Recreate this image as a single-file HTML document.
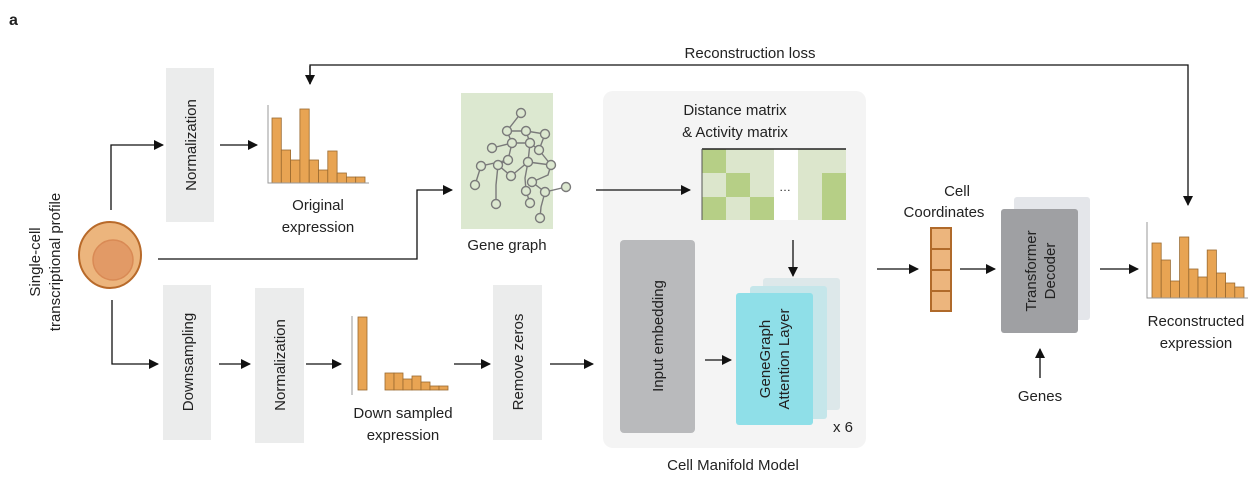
<!DOCTYPE html>
<html><head><meta charset="utf-8"><style>
html,body{margin:0;padding:0;background:#fff;}
svg{display:block;font-family:"Liberation Sans",Arial,sans-serif;}
text{fill:#222;}
</style></head><body>
<svg width="1257" height="485" viewBox="0 0 1257 485" xmlns="http://www.w3.org/2000/svg">
<defs>
<marker id="a" markerWidth="10" markerHeight="10" refX="9" refY="5" orient="auto" markerUnits="userSpaceOnUse">
<path d="M0,0 L10,5 L0,10 z" fill="#111"/></marker>
</defs>
<text x="9" y="25" font-size="16" font-weight="bold">a</text>
<!-- reconstruction loss -->
<text x="750" y="58" font-size="15" text-anchor="middle">Reconstruction loss</text>
<polyline points="310,84 310,65 1188,65 1188,205" fill="none" stroke="#111" stroke-width="1.3" marker-end="url(#a)"/>
<line x1="310" y1="66" x2="310" y2="84" stroke="#111" stroke-width="1.3" marker-end="url(#a)"/>
<!-- left label -->
<text transform="translate(40,262) rotate(-90)" font-size="15" text-anchor="middle"><tspan x="0" y="0">Single-cell</tspan><tspan x="0" y="20">transcriptional profile</tspan></text>
<!-- cell -->
<ellipse cx="110" cy="255" rx="31" ry="33" fill="#ecb57d" stroke="#b86a2a" stroke-width="2"/>
<circle cx="113" cy="260" r="20" fill="#e29a66" stroke="#d98a55" stroke-width="1.5"/>
<!-- branches -->
<polyline points="111,210 111,145 163,145" fill="none" stroke="#111" stroke-width="1.3" marker-end="url(#a)"/>
<polyline points="158,259 417,259 417,190 452,190" fill="none" stroke="#111" stroke-width="1.3" marker-end="url(#a)"/>
<polyline points="112,300 112,364 158,364" fill="none" stroke="#111" stroke-width="1.3" marker-end="url(#a)"/>
<!-- boxes -->
<rect x="166" y="68" width="48" height="154" fill="#ebecec"/>
<text transform="translate(196,145) rotate(-90)" font-size="15" text-anchor="middle">Normalization</text>
<rect x="163" y="285" width="48" height="155" fill="#ebecec"/>
<text transform="translate(193,362) rotate(-90)" font-size="15" text-anchor="middle">Downsampling</text>
<rect x="255" y="288" width="49" height="155" fill="#ebecec"/>
<text transform="translate(285,365) rotate(-90)" font-size="15" text-anchor="middle">Normalization</text>
<rect x="493" y="285" width="49" height="155" fill="#ebecec"/>
<text transform="translate(523,362) rotate(-90)" font-size="15" text-anchor="middle">Remove zeros</text>
<line x1="220" y1="145" x2="257" y2="145" stroke="#111" stroke-width="1.3" marker-end="url(#a)"/>
<line x1="219" y1="364" x2="250" y2="364" stroke="#111" stroke-width="1.3" marker-end="url(#a)"/>
<line x1="306" y1="364" x2="341" y2="364" stroke="#111" stroke-width="1.3" marker-end="url(#a)"/>
<line x1="454" y1="364" x2="490" y2="364" stroke="#111" stroke-width="1.3" marker-end="url(#a)"/>
<line x1="550" y1="364" x2="593" y2="364" stroke="#111" stroke-width="1.3" marker-end="url(#a)"/>
<!-- hist 1 -->
<g fill="#e8a453" stroke="#9a6a30" stroke-width="0.8">
<rect x="272" y="118" width="9.3" height="65"/><rect x="281.3" y="150" width="9.3" height="33"/><rect x="290.6" y="160" width="9.3" height="23"/><rect x="299.9" y="109" width="9.3" height="74"/><rect x="309.2" y="160" width="9.3" height="23"/><rect x="318.5" y="170" width="9.3" height="13"/><rect x="327.8" y="151" width="9.3" height="32"/><rect x="337.1" y="173" width="9.3" height="10"/><rect x="346.4" y="177" width="9.3" height="6"/><rect x="355.7" y="177" width="9.3" height="6"/>
</g>
<polyline points="268,105 268,183 369,183" fill="none" stroke="#999" stroke-width="1"/>
<text x="318" y="210" font-size="15" text-anchor="middle">Original</text>
<text x="318" y="232" font-size="15" text-anchor="middle">expression</text>
<!-- hist 2 -->
<g fill="#e8a453" stroke="#9a6a30" stroke-width="0.8">
<rect x="358" y="317" width="9" height="73"/><rect x="385" y="373" width="9" height="17"/><rect x="394" y="373" width="9" height="17"/><rect x="403" y="379" width="9" height="11"/><rect x="412" y="376" width="9" height="14"/><rect x="421" y="382" width="9" height="8"/><rect x="430" y="386" width="9" height="4"/><rect x="439" y="386" width="9" height="4"/>
</g>
<polyline points="352,316 352,395 M352,390 454,390" fill="none" stroke="#999" stroke-width="1"/>
<text x="403" y="418" font-size="15" text-anchor="middle">Down sampled</text>
<text x="403" y="440" font-size="15" text-anchor="middle">expression</text>
<!-- gene graph -->
<rect x="461" y="93" width="92" height="136" fill="#dce8d0"/>
<g stroke="#7a7a7a" stroke-width="1.4" fill="none">
<path d="M521,113 L507,131 L526,131 L545,134 L539,150 L530,143 L512,143 L507,131 M512,143 L492,148 M512,143 L508,160 L481,166 L475,185 M530,143 L528,162 L511,176 L498,165 M528,162 L525,178 L526,191 L530,203 M508,160 L498,165 L496,185 L496,204 M528,162 L551,165 L548,175 L532,182 L545,192 L566,187 M545,192 L541,207 L540,218 M539,150 L551,165 M526,131 L530,143"/>
</g>
<g fill="#dce8d0" stroke="#7a7a7a" stroke-width="1.4">
<circle cx="521" cy="113" r="4.5"/><circle cx="507" cy="131" r="4.5"/><circle cx="526" cy="131" r="4.5"/><circle cx="545" cy="134" r="4.5"/><circle cx="492" cy="148" r="4.5"/><circle cx="512" cy="143" r="4.5"/><circle cx="530" cy="143" r="4.5"/><circle cx="539" cy="150" r="4.5"/><circle cx="508" cy="160" r="4.5"/><circle cx="528" cy="162" r="4.5"/><circle cx="551" cy="165" r="4.5"/><circle cx="481" cy="166" r="4.5"/><circle cx="498" cy="165" r="4.5"/><circle cx="511" cy="176" r="4.5"/><circle cx="532" cy="182" r="4.5"/><circle cx="475" cy="185" r="4.5"/><circle cx="526" cy="191" r="4.5"/><circle cx="545" cy="192" r="4.5"/><circle cx="566" cy="187" r="4.5"/><circle cx="496" cy="204" r="4.5"/><circle cx="530" cy="203" r="4.5"/><circle cx="540" cy="218" r="4.5"/>
</g>
<text x="507" y="250" font-size="15" text-anchor="middle">Gene graph</text>
<!-- cell manifold panel -->
<rect x="603" y="91" width="263" height="357" rx="10" fill="#f4f4f4"/>
<text x="735" y="115" font-size="15" text-anchor="middle">Distance matrix</text>
<text x="735" y="137" font-size="15" text-anchor="middle">&amp; Activity matrix</text>
<line x1="596" y1="190" x2="690" y2="190" stroke="#111" stroke-width="1.3" marker-end="url(#a)"/>
<g>
<rect x="702" y="149" width="144" height="71" fill="#dce6cc"/>
<rect x="702" y="149" width="24" height="24" fill="#b6cf86"/>
<rect x="726" y="173" width="24" height="24" fill="#b6cf86"/>
<rect x="702" y="197" width="24" height="23" fill="#b6cf86"/>
<rect x="750" y="197" width="24" height="23" fill="#b6cf86"/>
<rect x="822" y="173" width="24" height="47" fill="#b6cf86"/>
<rect x="774" y="149" width="24" height="71" fill="#ffffff"/>
<text x="785" y="191" font-size="12" text-anchor="middle">…</text>
<line x1="702" y1="149" x2="846" y2="149" stroke="#222" stroke-width="1.5"/>
<line x1="702" y1="149" x2="702" y2="220" stroke="#555" stroke-width="1"/>
</g>
<line x1="793" y1="240" x2="793" y2="276" stroke="#111" stroke-width="1.3" marker-end="url(#a)"/>
<rect x="620" y="240" width="75" height="193" rx="4" fill="#b9babc"/>
<text transform="translate(663,336) rotate(-90)" font-size="15" text-anchor="middle">Input embedding</text>
<line x1="705" y1="360" x2="731" y2="360" stroke="#111" stroke-width="1.3" marker-end="url(#a)"/>
<rect x="763" y="278" width="77" height="132" rx="3" fill="#dde8ea"/>
<rect x="750" y="286" width="77" height="133" rx="3" fill="#c5e6ea"/>
<rect x="736" y="293" width="77" height="132" rx="3" fill="#8fdfe8"/>
<text transform="translate(774,359) rotate(-90)" font-size="15" text-anchor="middle"><tspan x="0" y="-4">GeneGraph</tspan><tspan x="0" y="15">Attention Layer</tspan></text>
<text x="843" y="432" font-size="15" text-anchor="middle">x 6</text>
<text x="733" y="470" font-size="15" text-anchor="middle">Cell Manifold Model</text>
<!-- cell coordinates -->
<text x="957" y="196" font-size="15" text-anchor="middle">Cell</text>
<text x="944" y="217" font-size="15" text-anchor="middle">Coordinates</text>
<line x1="877" y1="269" x2="918" y2="269" stroke="#111" stroke-width="1.3" marker-end="url(#a)"/>
<g fill="#ecb57d" stroke="#b06a2a" stroke-width="2">
<rect x="931" y="228" width="20" height="21"/><rect x="931" y="249" width="20" height="21"/><rect x="931" y="270" width="20" height="21"/><rect x="931" y="291" width="20" height="20"/>
</g>
<line x1="960" y1="269" x2="995" y2="269" stroke="#111" stroke-width="1.3" marker-end="url(#a)"/>
<rect x="1014" y="197" width="76" height="123" rx="3" fill="#e4e6ea"/>
<rect x="1001" y="209" width="77" height="124" rx="3" fill="#9fa0a3"/>
<text transform="translate(1040,271) rotate(-90)" font-size="15" text-anchor="middle"><tspan x="0" y="-4">Transformer</tspan><tspan x="0" y="15">Decoder</tspan></text>
<line x1="1040" y1="378" x2="1040" y2="349" stroke="#111" stroke-width="1.3" marker-end="url(#a)"/>
<text x="1040" y="401" font-size="15" text-anchor="middle">Genes</text>
<line x1="1100" y1="269" x2="1138" y2="269" stroke="#111" stroke-width="1.3" marker-end="url(#a)"/>
<!-- hist 3 -->
<g fill="#e8a453" stroke="#9a6a30" stroke-width="0.8">
<rect x="1152" y="243" width="9.2" height="55"/><rect x="1161.2" y="260" width="9.2" height="38"/><rect x="1170.4" y="281" width="9.2" height="17"/><rect x="1179.6" y="237" width="9.2" height="61"/><rect x="1188.8" y="269" width="9.2" height="29"/><rect x="1198" y="277" width="9.2" height="21"/><rect x="1207.2" y="250" width="9.2" height="48"/><rect x="1216.4" y="273" width="9.2" height="25"/><rect x="1225.6" y="283" width="9.2" height="15"/><rect x="1234.8" y="287" width="9.2" height="11"/>
</g>
<polyline points="1147,222 1147,298 1248,298" fill="none" stroke="#999" stroke-width="1"/>
<text x="1196" y="326" font-size="15" text-anchor="middle">Reconstructed</text>
<text x="1196" y="348" font-size="15" text-anchor="middle">expression</text>
</svg>
</body></html>
